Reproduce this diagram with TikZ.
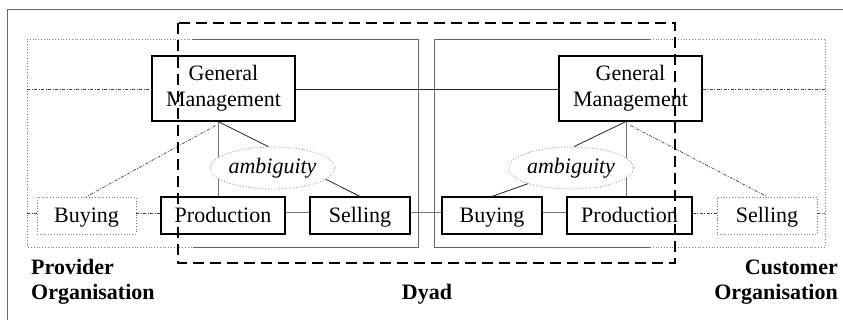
\documentclass[tikz,border=0pt]{standalone}
\usepackage{fontspec}
\setmainfont{Liberation Serif}
\usetikzlibrary{shapes.geometric}

\tikzset{
  txt/.style={font=\fontsize{22}{26}\selectfont},
  unitbox/.style={txt, draw=black, line width=1.1pt, minimum height=37, inner sep=0, text height=16pt, text depth=1pt, align=center},
  ghostbox/.style={txt, draw=black!55, dotted, line width=0.8pt, minimum height=37, inner sep=0, text height=16pt, text depth=1pt, align=center},
  gmbox/.style={txt, draw=black, line width=1.1pt, minimum width=143, minimum height=65, inner sep=0, align=center},
  amb/.style={ellipse, draw=black!45, dotted, line width=0.8pt, fill=white, minimum width=125, minimum height=42, inner sep=0, font=\fontsize{22}{26}\selectfont\itshape},
  frameline/.style={draw=black!60, line width=0.8pt},
  ghostline/.style={draw=black!50, dotted, line width=0.8pt},
  dashdot/.style={draw=black!75, line width=0.7pt, dash pattern=on 3pt off 1.5pt on 1pt off 1.5pt},
  link/.style={draw=black!85, line width=0.8pt},
  graylink/.style={draw=black!55, line width=1pt},
  dyadbox/.style={draw=black, line width=2.4pt, dash pattern=on 11pt off 6pt},
  label/.style={font=\fontsize{22}{25}\selectfont\bfseries, inner sep=0}
}

\begin{document}
\begin{tikzpicture}[x=1pt, y=-1pt]
  \useasboundingbox (0,0) rectangle (843,320);
  \fill[white] (0,0) rectangle (843,320);

  % outer frame (left and top edges)
  \draw[frameline] (7,322) -- (7,9) -- (845,9);

  % provider organisation: dotted outer part, solid part inside the dyad
  \draw[ghostline] (193,39) -- (27,39) -- (27,247) -- (193,247);
  \draw[frameline] (193,39) -- (418,39) -- (418,247) -- (193,247);
  % customer organisation
  \draw[frameline] (650,39) -- (434,39) -- (434,247) -- (650,247);
  \draw[ghostline] (650,39) -- (825,39) -- (825,247) -- (650,247);

  % provider side units
  \node[gmbox] (gmL) at (223.5,88.5) {General\\Management};
  \node[ghostbox, minimum width=99] (buyL) at (86.5,215.5) {Buying};
  \node[unitbox, minimum width=124] (prodL) at (223,215.5) {Production};
  \node[unitbox, minimum width=100] (selL) at (360,215.5) {Selling};

  % customer side units
  \node[gmbox] (gmR) at (630.5,88.5) {General\\Management};
  \node[unitbox, minimum width=100] (buyR) at (492,215.5) {Buying};
  \node[unitbox, minimum width=125] (prodR) at (629.5,215.5) {Production};
  \node[ghostbox, minimum width=100] (selR) at (767,215.5) {Selling};

  \coordinate (edgeL) at (27,89);
  \coordinate (edgeR) at (825,89);
  \coordinate (edgeLb) at (27,213);
  \coordinate (edgeRb) at (825,213);

  % management links
  \draw[dashdot] (edgeL) -- (gmL.west |- edgeL);
  \draw[link] (gmL.east |- edgeL) -- (gmR.west |- edgeL);
  \draw[dashdot] (gmR.east |- edgeR) -- (edgeR);

  % operational chain
  \draw[dashdot] (edgeLb) -- (buyL.west |- edgeLb);
  \draw[dashdot] (buyL.east |- edgeLb) -- (prodL.west |- edgeLb);
  \draw[graylink] (prodL.east |- edgeLb) -- (selL.west |- edgeLb);
  \draw[graylink] (selL.east |- edgeLb) -- (buyR.west |- edgeLb);
  \draw[graylink] (buyR.east |- edgeLb) -- (prodR.west |- edgeLb);
  \draw[dashdot] (prodR.east |- edgeRb) -- (selR.west |- edgeRb);
  \draw[dashdot] (selR.east |- edgeRb) -- (edgeRb);

  % hierarchy lines
  \draw[graylink] ([xshift=-5.5pt]gmL.south) -- ([xshift=-5.5pt]gmL.south |- prodL.north);
  \draw[graylink] ([xshift=-4.5pt]gmR.south) -- ([xshift=-4.5pt]gmR.south |- prodR.north);
  \draw[dashdot] ([xshift=-8pt,yshift=-4pt]gmL.south) -- (buyL.north);
  \draw[dashdot] ([yshift=-4pt]gmR.south) -- (selR.north);

  % ambiguity ellipses
  \node[amb] (ambL) at (272.5,168) {ambiguity};
  \node[amb] (ambR) at (571,168) {ambiguity};
  \draw[link] ([xshift=-5.5pt]gmL.south) -- (ambL.101);
  \draw[link] (ambL.-12) -- (selL.north);
  \draw[link] ([xshift=-4.5pt]gmR.south) -- (ambR.82);
  \draw[link] (ambR.-160) -- (buyR.north);

  % dyad boundary
  \node[draw=none, inner sep=0, minimum size=0] (dyadTL) at (178,23) {};
  \node[draw=none, inner sep=0, minimum size=0] (dyadBR) at (675,263) {};
  \draw[dyadbox] (dyadTL) rectangle (dyadBR);

  % captions
  \node[label, anchor=base west, align=left] (provider) at (31,300) {Provider\\Organisation};
  \node[label, anchor=base] (dyad) at (427,300) {Dyad};
  \node[label, anchor=base east, align=right] (customer) at (838,300) {Customer\\Organisation};
\end{tikzpicture}
\end{document}
